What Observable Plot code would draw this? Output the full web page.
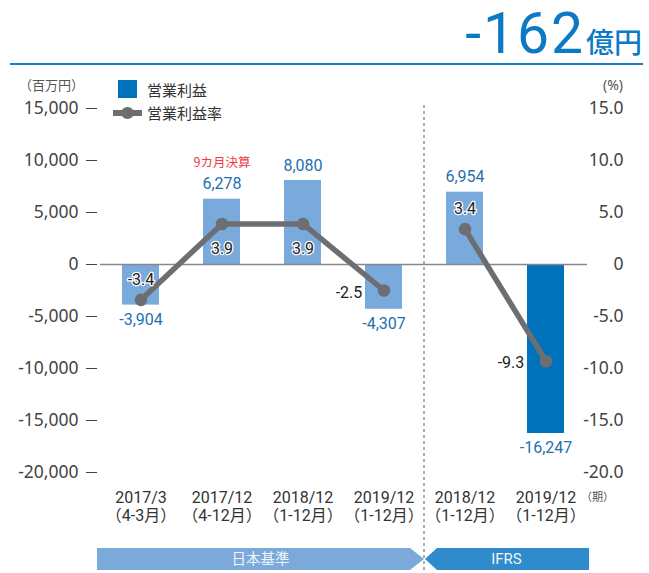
<!DOCTYPE html>
<html>
<head>
<meta charset="utf-8">
<script src="https://cdn.jsdelivr.net/npm/d3@7"></script>
<script src="https://cdn.jsdelivr.net/npm/@observablehq/plot@0.6"></script>
<style>
  html, body { margin: 0; padding: 0; background: #fff; }
  #wrap { position: relative; width: 649px; height: 573px; overflow: hidden; font-family: Roboto, "Noto Sans CJK JP", sans-serif; }
  #title { position: absolute; right: 7px; top: 5px; font: 400 57px Roboto, sans-serif; line-height: 57px; letter-spacing: 2px; color: #0b79c4; white-space: nowrap; }
  #title .unit { font: 500 28px "Noto Sans CJK JP", sans-serif; letter-spacing: 0; margin-left: 1px; }
  #rule { position: absolute; left: 10px; top: 63px; width: 633px; height: 2px; background: #1a7cc1; }
  #chart { position: absolute; left: 0; top: 66px; }
  .abs { position: absolute; white-space: nowrap; }
  .cjk { font-family: "Noto Sans CJK JP", sans-serif; }
</style>
</head>
<body>
<div id="wrap">
  <div id="title"><span>-162</span><span class="unit">億円</span></div>
  <div id="rule"></div>
  <div id="chart"></div>
  <div class="abs cjk" style="left:19px; top:76px; font-size:13px; line-height:18px; color:#555;">（百万円）</div>
  <div class="abs" style="right:26px; top:76px; font: 14px 'Noto Sans', sans-serif; line-height:18px; color:#555;">(%)</div>
  <div class="abs" style="left:118px; top:80px; width:19px; height:18px; background:#0072bc;"></div>
  <div class="abs cjk" style="left:147px; top:80px; font-size:15px; line-height:20px; color:#333;">営業利益</div>
  <div class="abs" style="left:113px; top:110px; width:29px; height:6px; background:#6d6e71;"></div>
  <div class="abs" style="left:121px; top:107px; width:13px; height:12px; border-radius:50%; background:#6d6e71;"></div>
  <div class="abs cjk" style="left:147px; top:103px; font-size:15px; line-height:20px; color:#333;">営業利益率</div>
  <div class="abs cjk" style="left:581px; top:487px; font-size:11px; line-height:18px; color:#555;">（期）</div>
</div>
<script>
// ---- data ----
const periods   = ["2017/3", "2017/12", "2018/12", "2019/12", "2018/12", "2019/12"];
const months    = ["（4-3月）", "（4-12月）", "（1-12月）", "（1-12月）", "（1-12月）", "（1-12月）"];
const standards = ["日本基準", "日本基準", "日本基準", "日本基準", "IFRS", "IFRS"];
const operatingProfit = [-3904, 6278, 8080, -4307, 6954, -16247];   // 百万円
const operatingMargin = [-3.4, 3.9, 3.9, -2.5, 3.4, -9.3];           // %
const isCurrent = [false, false, false, false, false, true];
const notes = ["", "9カ月決算", "", "", "", ""];
const marginLabelSide = ["above", "below", "below", "left", "above", "left"];
const leftTicks  = [15000, 10000, 5000, 0, -5000, -10000, -15000, -20000];
const rightTicks = [15, 10, 5, 0, -5, -10, -15, -20];
const standardNames = ["日本基準", "IFRS"];

// ---- build rows ----
const rows = periods.map((p, i) => ({
  key: i, period: p, months: months[i], standard: standards[i],
  profit: operatingProfit[i], margin: operatingMargin[i],
  current: isCurrent[i], note: notes[i], side: marginLabelSide[i]
}));

const fmtInt = v => (v < 0 ? "-" : "") + d3.format(",")(Math.abs(v));
const fmtPct = v => v === 0 ? "0" : (v < 0 ? "-" : "") + Math.abs(v).toFixed(1);
const fmtM = v => (v < 0 ? "-" : "") + Math.abs(v).toFixed(1);

const lightBlue = "#7aaadb", darkBlue = "#0072bc", gray = "#6d6e71", labelBlue = "#1f70b0";
const numFont = "Roboto, 'Noto Sans CJK JP', sans-serif";

function decorations(index, scales, values, dimensions) {
  const {width, height, marginLeft, marginRight} = dimensions;
  const x = scales.x, y = scales.y;
  const bw = typeof x.bandwidth === "function" ? x.bandwidth() : 37;
  const sep = (x(3) + bw + x(4)) / 2;
  const left = marginLeft - 3, right = width - marginRight + 2;
  const top = height - 25, bot = height - 3, mid = (top + bot) / 2;
  const g = d3.create("svg:g");
  g.append("polygon")
    .attr("points", [[left, top], [sep - 14, top], [sep, mid], [sep - 14, bot], [left, bot]].map(p => p.join(",")).join(" "))
    .attr("fill", "#7aa9da");
  g.append("polygon")
    .attr("points", [[sep + 13, top], [right, top], [right, bot], [sep + 13, bot], [sep + 1, mid]].map(p => p.join(",")).join(" "))
    .attr("fill", "#2f8bcc");
  g.append("text").attr("x", (left + sep) / 2).attr("y", mid).attr("dy", "0.35em")
    .attr("text-anchor", "middle").attr("fill", "#eef5fb")
    .attr("font-family", "'Noto Sans CJK JP', sans-serif").attr("font-size", 14.5)
    .text(standardNames[0]);
  g.append("text").attr("x", (sep + right) / 2).attr("y", mid).attr("dy", "0.35em")
    .attr("text-anchor", "middle").attr("fill", "#eef5fb")
    .attr("font-family", numFont).attr("font-size", 15)
    .text(standardNames[1]);
  g.append("line")
    .attr("x1", sep).attr("x2", sep)
    .attr("y1", y(leftTicks[0]) - 3).attr("y2", height)
    .attr("stroke", "#777").attr("stroke-width", 1.2).attr("stroke-dasharray", "3,3");
  return g.node();
}

const chart = Plot.plot({
  width: 649,
  height: 507,
  marginTop: 42,
  marginBottom: 101,
  marginLeft: 100,
  marginRight: 62,
  style: { background: "transparent", fontFamily: numFont, overflow: "visible" },
  x: { domain: d3.range(rows.length), paddingInner: 0.54, paddingOuter: 0.27, axis: null },
  y: { domain: [-20000, 15000], axis: null },
  marks: [
    Plot.barY(rows, { x: "key", y: "profit", fill: d => d.current ? darkBlue : lightBlue }),
    Plot.ruleY([0], { stroke: "#888", strokeWidth: 1.5 }),
    Plot.axisY(leftTicks, {
      anchor: "left", tickSize: 11, tickPadding: 8, dx: -3, label: null,
      tickFormat: fmtInt, fontSize: 17.5, fontFamily: "'Noto Sans', sans-serif", color: "#444"
    }),
    Plot.text(rightTicks, {
      y: d => d * 1000, text: fmtPct, frameAnchor: "right", textAnchor: "end", dx: 36,
      fontSize: 17.5, fontFamily: "'Noto Sans', sans-serif", fill: "#444"
    }),
    Plot.axisX({
      anchor: "bottom", tickSize: 0, tickPadding: 17, label: null,
      tickFormat: i => periods[i] + "\n" + months[i],
      fontSize: 16, lineHeight: 1.16, color: "#333", fontFamily: numFont
    }),
    decorations,
    Plot.line(rows, { x: "key", y: d => d.margin * 1000, z: "standard", stroke: gray, strokeWidth: 5.5 }),
    Plot.dot(rows, { x: "key", y: d => d.margin * 1000, r: 6.3, fill: gray }),
    Plot.text(rows.filter(d => d.profit >= 0), {
      x: "key", y: "profit", text: d => fmtInt(d.profit), dy: -15, lineAnchor: "middle",
      fill: labelBlue, fontSize: 16
    }),
    Plot.text(rows.filter(d => d.profit < 0), {
      x: "key", y: "profit", text: d => fmtInt(d.profit), dy: 14.5, lineAnchor: "middle",
      fill: labelBlue, fontSize: 16
    }),
    Plot.text(rows.filter(d => d.note), {
      x: "key", y: "profit", text: "note", dy: -36, lineAnchor: "middle",
      fill: "#ee3b45", fontSize: 12.5, fontFamily: "'Noto Sans CJK JP', sans-serif"
    }),
    Plot.text(rows.filter(d => d.side === "above"), {
      x: "key", y: d => d.margin * 1000, text: d => fmtM(d.margin), dy: -20, lineAnchor: "middle",
      fill: "#222", stroke: "white", strokeWidth: 2.5, fontSize: 16
    }),
    Plot.text(rows.filter(d => d.side === "below"), {
      x: "key", y: d => d.margin * 1000, text: d => fmtM(d.margin), dy: 24.5, lineAnchor: "middle",
      fill: "#222", stroke: "white", strokeWidth: 2.5, fontSize: 16
    }),
    Plot.text(rows.filter(d => d.side === "left"), {
      x: "key", y: d => d.margin * 1000, text: d => fmtM(d.margin), dx: -35, dy: 2, lineAnchor: "middle",
      fill: "#222", stroke: "white", strokeWidth: 2.5, fontSize: 16
    })
  ]
});
document.getElementById("chart").appendChild(chart);
</script>
</body>
</html>
